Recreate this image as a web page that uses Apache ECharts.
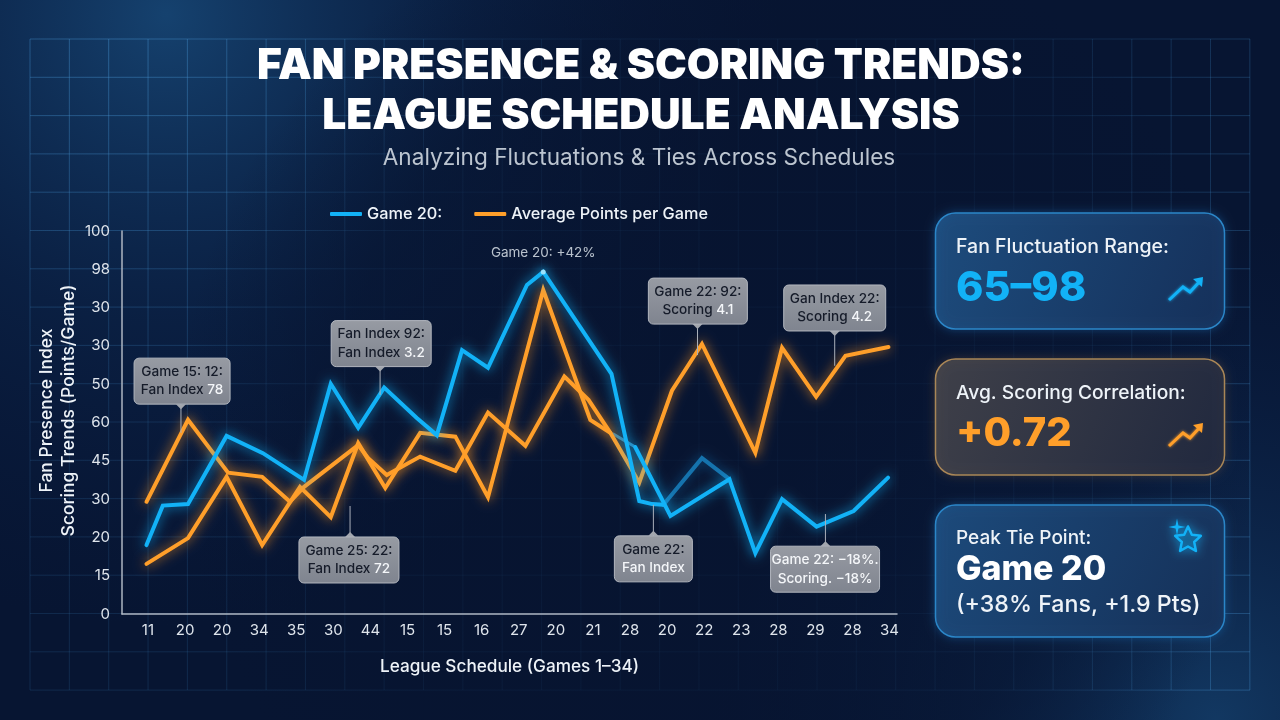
<!DOCTYPE html>
<html><head><meta charset="utf-8">
<style>html,body{margin:0;padding:0;background:#071431}#c{width:1280px;height:720px}</style>
<script src="https://cdn.jsdelivr.net/npm/echarts@6/dist/echarts.min.js"></script>
</head><body><div id="c"></div>
<script>
const xLabels=['11','20','20','34','35','30','44','15','15','16','27','20','21','28','20','22','23','28','29','28','34'];
const yLabels=['0','15','20','30','45','60','50','30','30','98','100'];
const fanX=[-0.04,0.40,1.08,2.12,3.10,4.21,4.93,5.67,6.37,7.25,7.79,8.47,9.17,10.22,10.66,12.50,13.25,13.60,13.90];
const fanY=[18.0,28.3,28.7,46.5,42.0,35.0,60.1,48.6,59.1,51.2,46.7,68.9,64.3,85.9,89.3,62.7,29.5,28.7,28.5];
const fanDimX=[13.90,14.94,15.68];
const fanDimY=[28.5,40.7,35.2];
const fanFadeX=[12.55,13.14];
const fanFadeY=[47.0,43.6];
const fanLateX=[13.14,14.09,15.68,16.38,17.10,18.03,19.03,19.96];
const fanLateY=[43.6,25.6,35.2,15.9,30.0,22.8,26.9,35.6];
const ptsX=[-0.04,1.08,2.16,3.08,3.83,4.21,5.67,5.94,6.44,7.34,8.29,9.17,10.18,11.23,11.88,12.47,13.25,14.13,14.94,16.38,17.10,18.02,18.81,19.97];
const ptsY=[29.3,50.7,36.9,35.8,29.3,33.2,44.1,40.7,36.3,41.1,37.4,52.6,43.9,62.0,55.9,47.3,34.3,58.3,70.5,42.1,69.5,56.7,67.4,69.7];
const pts2X=[-0.04,1.08,2.12,3.08,4.10,4.93,5.67,6.40,7.34,8.29,9.17,10.66,11.93,12.47];
const pts2Y=[13.1,19.8,35.8,18.0,33.2,25.3,44.6,32.9,47.3,46.3,30.5,84.6,50.7,47.3];
const calloutLine1=['Game 15: 12:','Fan Index 92:','Game 25: 22:','Game 22: 92:','Gan Index 22:','Game 22:','Game 22: \u221218%.'];
const calloutLine2=['Fan Index ','Fan Index ','Fan Index ','Scoring ','Scoring ','Fan Index','Scoring. \u221218%'];
const calloutValue=['78','3.2','72','4.1','4.2','',''];
const calloutX=[0.92,6.29,5.42,14.83,18.52,13.63,18.26];
const calloutY=[60.8,70.6,14.1,81.7,79.9,14.4,11.7];
const leaderX=[0.89,6.26,5.45,14.82,18.52,13.63,18.27];
const leaderY=[47.3,57.2,28.2,67.6,64.8,28.5,26.1];
const calloutW=[96,100,100,99,102,78,109];
const FONT='Inter, "Open Sans", sans-serif';
const BLUE='#12b2f7', ORANGE='#ff9f2a';
const zip=(a,b)=>a.map((v,i)=>[v,b[i]]);
const lineSeries=(name,xs,ys,color,glow,w,z)=>({type:'line',name,data:zip(xs,ys),showSymbol:false,symbol:'none',z:z||3,silent:true,
  lineStyle:{color,width:w||4,join:'miter',miterLimit:6,cap:'round',shadowColor:glow,shadowBlur:12},
  itemStyle:{color},emphasis:{disabled:true}});
const els=[];
els.push({type:'rect',z:-20,shape:{x:0,y:0,width:1280,height:720},style:{fill:'#071532'}});
els.push({type:'rect',z:-19,shape:{x:0,y:0,width:1280,height:720},style:{fill:{type:'radial',x:0.13,y:0.02,r:0.85,colorStops:[{offset:0,color:'rgba(22,68,114,0.95)'},{offset:0.5,color:'rgba(14,44,86,0.45)'},{offset:1,color:'rgba(10,30,70,0)'}]}}});
els.push({type:'rect',z:-19,shape:{x:0,y:0,width:1280,height:720},style:{fill:{type:'radial',x:0.95,y:1,r:0.7,colorStops:[{offset:0,color:'rgba(20,62,106,0.85)'},{offset:1,color:'rgba(10,30,70,0)'}]}}});
const gridStroke={type:'radial',global:true,x:120,y:40,r:1350,colorStops:[{offset:0,color:'rgba(66,140,200,0.5)'},{offset:0.28,color:'rgba(56,130,190,0.2)'},{offset:0.7,color:'rgba(56,130,190,0.16)'},{offset:1,color:'rgba(66,140,200,0.42)'}]};
for(let i=0;i<=31;i++){const x=30+39.35*i;els.push({type:'line',z:-18,silent:true,shape:{x1:x,y1:39,x2:x,y2:690},style:{stroke:gridStroke,lineWidth:1}});}
for(let j=0;j<=17;j++){const y=39+38.3*j;els.push({type:'line',z:-18,silent:true,shape:{x1:30,y1:y,x2:1250,y2:y},style:{stroke:gridStroke,lineWidth:1}});}
els.push({type:'rect',z:-17,silent:true,shape:{x:0,y:0,width:1280,height:720},style:{fill:{type:'radial',x:0.56,y:0.6,r:0.75,colorStops:[{offset:0,color:'rgba(7,20,48,0.75)'},{offset:0.7,color:'rgba(7,20,48,0.6)'},{offset:1,color:'rgba(7,20,48,0)'}]}}});
function card(y,h,fillA,fillB,stroke,glow){els.push({type:'rect',z:10,shape:{x:935.5,y,width:289,height:h,r:20},style:{fill:{type:'linear',x:0,y:0,x2:1,y2:1,colorStops:[{offset:0,color:fillA},{offset:1,color:fillB}]},stroke,lineWidth:1.5,shadowColor:glow,shadowBlur:10}});}
function txt(x,y,text,font,fill,extra){els.push({type:'text',z:11,style:Object.assign({x,y,text,font,fill,textVerticalAlign:'middle',verticalAlign:'middle'},extra||{})});}
card(213,116,'#1d4c7d','#15305a','#2b86c8','rgba(30,130,210,.35)');
card(359,116,'#3f4049','#20283e','#a98657','rgba(200,140,70,.2)');
card(505,132,'#1c4a7b','#153058','#2b86c8','rgba(30,130,210,.35)');
txt(956,247,'Fan Fluctuation Range:','500 19.5px '+FONT,'#eef3f8');
txt(956,289,'65\u201398','800 41.5px '+FONT,BLUE);
txt(956,393,'Avg. Scoring Correlation:','500 19.2px '+FONT,'#eef3f8');
txt(956,434,'+0.72','800 40px '+FONT,ORANGE);
txt(956,538,'Peak Tie Point:','500 19px '+FONT,'#eef3f8');
txt(956,570,'Game 20','800 34px '+FONT,'#ffffff');
txt(956,605,'(+38% Fans, +1.9 Pts)','500 23.2px '+FONT,'#eef3f8');
function arrow(oy,color){
  els.push({type:'polyline',z:11,shape:{points:[[1169,300],[1183,287],[1190,292],[1201,280]]},position:[0,oy],style:{stroke:color,fill:null,lineWidth:3,shadowColor:color,shadowBlur:3}});
  els.push({type:'polygon',z:11,shape:{points:[[1193,279],[1203,277],[1202,287]]},position:[0,oy],style:{fill:color}});
}
arrow(0,BLUE);arrow(146,ORANGE);
function starPts(cx,cy,R,r,n,rot){const p=[];for(let i=0;i<2*n;i++){const a=rot+i*Math.PI/n,q=i%2?r:R;p.push([cx+q*Math.cos(a),cy+q*Math.sin(a)]);}return p;}
els.push({type:'polygon',z:11,shape:{points:starPts(1188,540,13.5,6.5,5,-Math.PI/2)},style:{fill:'rgba(18,178,247,.08)',stroke:BLUE,lineWidth:2.5,lineJoin:'round',shadowColor:BLUE,shadowBlur:10}});
els.push({type:'polygon',z:11,shape:{points:starPts(1177,527,8.5,2,4,-Math.PI/2)},style:{fill:BLUE,shadowColor:BLUE,shadowBlur:8}});

const option={animation:false,
 title:[
  {text:'FAN PRESENCE & SCORING TRENDS:\nLEAGUE SCHEDULE ANALYSIS',left:636,top:36,textAlign:'center',textStyle:{fontFamily:FONT,fontWeight:900,fontSize:42.5,lineHeight:50,color:'#fff',textShadowColor:'#2f86c9',textShadowBlur:0,textShadowOffsetY:3}},
  {text:'Analyzing Fluctuations & Ties Across Schedules',left:634,top:142,textAlign:'center',textStyle:{fontFamily:FONT,fontWeight:400,fontSize:22.6,color:'#bcc5d0'}}
 ],
 legend:{left:325,top:201,itemWidth:32,itemHeight:4,itemGap:32,icon:'roundRect',data:['Game 20:','Average Points per Game'],textStyle:{color:'#eef3f8',fontFamily:FONT,fontSize:16.3,fontWeight:500},selectedMode:false},
 grid:{left:122,top:231,width:775,height:383},
 xAxis:{type:'value',min:-0.7,max:20.2,name:'League Schedule (Games 1\u201334)',nameLocation:'middle',nameGap:44,nameTextStyle:{color:'#eef3f8',fontFamily:FONT,fontSize:17.2,fontWeight:500},
   axisLine:{show:true,onZero:false,lineStyle:{color:'#aeb6c2',width:1.5}},axisTick:{show:false},splitLine:{show:false},
   axisLabel:{customValues:xLabels.map((_,i)=>i),formatter:v=>xLabels[v],color:'#dfe5ec',fontFamily:FONT,fontSize:15,margin:9}},
 yAxis:{type:'value',min:0,max:100,interval:10,name:'Fan Presence Index\nScoring Trends (Points/Game)',nameLocation:'middle',nameGap:42,nameMoveOverlap:false,nameRotate:90,nameTextStyle:{color:'#eef3f8',fontFamily:FONT,fontSize:17.5,fontWeight:500,lineHeight:22,padding:[0,0,0,24]},
   axisLine:{show:true,onZero:false,lineStyle:{color:'#aeb6c2',width:1.5}},axisTick:{show:false},splitLine:{show:false},
   axisLabel:{formatter:(v)=>yLabels[Math.round(v/10)],color:'#dfe5ec',fontFamily:FONT,fontSize:15,margin:12}},
 series:[
  lineSeries('fanFade',fanFadeX,fanFadeY,'#2b83b8','rgba(18,178,247,.4)',3,2),
  lineSeries('fanDim',fanDimX,fanDimY,'#1573ad','rgba(18,150,230,.5)',4,2),
  lineSeries('Average Points per Game',ptsX,ptsY,ORANGE,'rgba(255,150,30,.85)',4,3),
  lineSeries('pts2',pts2X,pts2Y,ORANGE,'rgba(255,150,30,.85)',4,3),
  lineSeries('Game 20:',fanX,fanY,BLUE,'rgba(18,178,247,.9)',4,4),
  lineSeries('fanLate',fanLateX,fanLateY,BLUE,'rgba(18,178,247,.9)',4,4),
  {type:'scatter',silent:true,z:5,data:[[10.66,89.3]],symbolSize:5,itemStyle:{color:'#bdeeff',shadowColor:BLUE,shadowBlur:8},
   label:{show:true,formatter:'Game 20: +42%',position:'top',distance:10,color:'#e6edf4',fontFamily:FONT,fontSize:13.5}},
  {type:'custom',silent:true,z:6,clip:false,
   data:calloutX.map((v,i)=>[v,calloutY[i],leaderX[i],leaderY[i]]),
   renderItem(params,api){
    const i=params.dataIndex,w=calloutW[i],h=46;
    const c=api.coord([api.value(0),api.value(1)]),l=api.coord([api.value(2),api.value(3)]);
    const up=l[1]<c[1];const edge=up?c[1]-h/2:c[1]+h/2;const s=up?-1:1;
    const whiteAll=i===6;const whiteSecond=i>=5;
    const dark='#151b29',white='#f4f6f9';
    const firstCol=whiteAll?white:dark, secondCol=whiteSecond?white:dark;
    const second=calloutValue[i]?`{b|${calloutLine2[i]}}{v|${calloutValue[i]}}`:`{b|${calloutLine2[i]}}`;
    const f='500 13.6px '+FONT;
    return {type:'group',children:[
     {type:'line',shape:{x1:l[0],y1:edge,x2:l[0],y2:l[1]},style:{stroke:'#aab0ba',lineWidth:1}},
     {type:'polygon',shape:{points:[[l[0]-5,edge],[l[0]+5,edge],[l[0],edge+s*5]]},style:{fill:'#a2a6ae'}},
     {type:'rect',shape:{x:c[0]-w/2,y:c[1]-h/2,width:w,height:h,r:5},style:{fill:{type:'linear',x:0,y:0,x2:0,y2:1,colorStops:[{offset:0,color:'#979ba3'},{offset:1,color:'#7f848f'}]},stroke:'#b2b6be',lineWidth:1}},
     {type:'text',style:{x:c[0],y:c[1],text:`{a|${calloutLine1[i]}}\n${second}`,align:'center',verticalAlign:'middle',
       rich:{a:{font:f,fill:firstCol,color:firstCol,lineHeight:18.5,align:'center'},b:{font:f,fill:secondCol,color:secondCol,lineHeight:18.5},v:{font:f,fill:white,color:white,lineHeight:18.5}}}}
    ]};
   }}
 ],
 graphic:{elements:els}
};
const chart=echarts.init(document.getElementById('c'),null,{renderer:'canvas',width:1280,height:720});
chart.setOption(option);
</script></body></html>
